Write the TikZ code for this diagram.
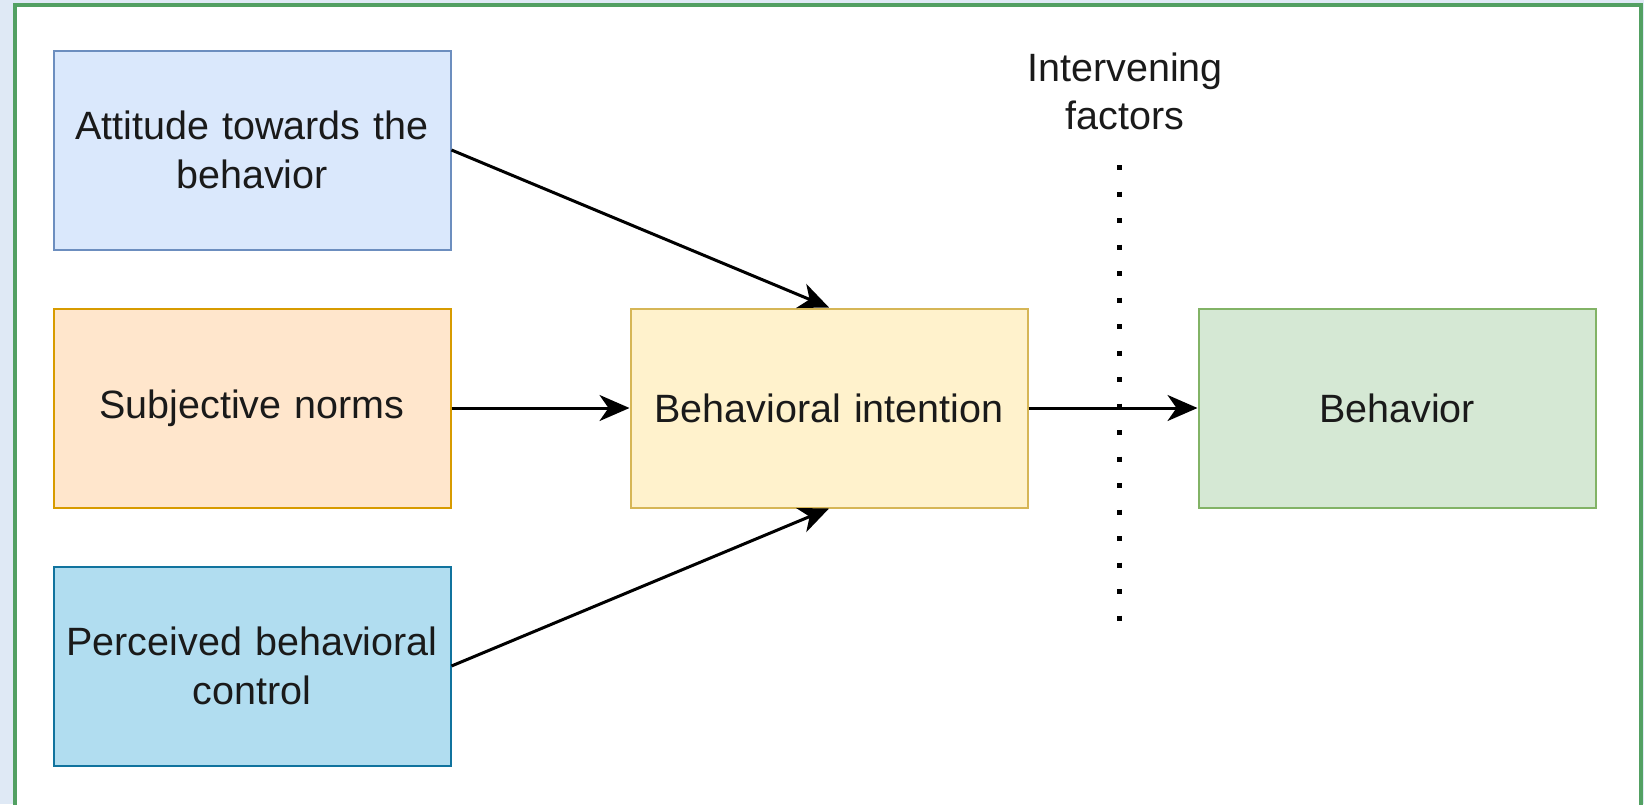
\documentclass[tikz,border=0pt]{standalone}
\usepackage{fontspec}
\setmainfont{Liberation Sans}
\usetikzlibrary{arrows.meta}
\definecolor{outbg}{RGB}{223,233,245}
\definecolor{frame}{RGB}{82,160,98}
\definecolor{attfill}{HTML}{DAE8FC}\definecolor{attdraw}{HTML}{6C8EBF}
\definecolor{subfill}{HTML}{FFE6CC}\definecolor{subdraw}{HTML}{D79B00}
\definecolor{intfill}{HTML}{FFF2CC}\definecolor{intdraw}{HTML}{D6B656}
\definecolor{behfill}{HTML}{D5E8D4}\definecolor{behdraw}{HTML}{82B366}
\definecolor{perfill}{HTML}{B1DDF0}\definecolor{perdraw}{HTML}{10739E}
\definecolor{txt}{RGB}{26,26,26}
\begin{document}
\begin{tikzpicture}[x=1pt,y=-1pt,
  box/.style={draw, line width=2pt, minimum width=397pt, minimum height=199pt,
    align=center, inner sep=0pt, text width=380pt, text=txt,
    font=\fontsize{39.5}{49}\selectfont},
  arr/.style={line width=3pt, -{Stealth[length=30pt,width=26pt,inset=9pt]}},
  dots/.style={line width=5pt, dash pattern=on 5pt off 21.5pt},
  lbl/.style={align=center, text=txt, inner sep=0pt, font=\fontsize{39.5}{48}\selectfont}]
\useasboundingbox (0,0) rectangle (1644,804);
\clip (0,0) rectangle (1644,804);
\fill[outbg] (0,0) rectangle (1644,804);
\draw[frame, fill=white, line width=3.5pt] (15,5) rectangle (1641,840);
\node[box, fill=attfill, draw=attdraw] (att) at (252,150) {Attitude towards the\\behavior};
\node[box, fill=subfill, draw=subdraw] (sub) at (252,408) {Subjective norms};
\node[box, fill=perfill, draw=perdraw] (per) at (252,666) {Perceived behavioral\\control};
\node[box, fill=intfill, draw=intdraw] (int) at (829,408) {Behavioral intention};
\node[box, fill=behfill, draw=behdraw] (beh) at (1397,408) {Behavior};
\node[lbl] (ivf) at (1125,91) {Intervening\\factors};
\coordinate (dtop) at (1119,165);
\coordinate (dbot) at (1119,625);
\draw[dots] (dtop) -- (dbot);
\draw[arr] (att.east) -- (int.north);
\draw[arr] (sub) -- (int);
\draw[arr] (per.east) -- (int.south);
\draw[arr] (int) -- (beh);
\end{tikzpicture}
\end{document}
